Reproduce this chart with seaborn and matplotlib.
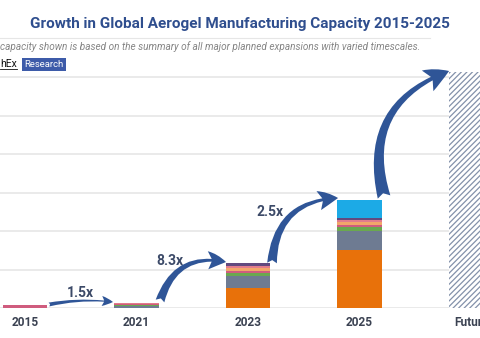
import matplotlib
matplotlib.use("Agg")
import matplotlib.pyplot as plt
import seaborn as sns
import pandas as pd
import numpy as np
from matplotlib.patches import FancyArrowPatch
from matplotlib.lines import Line2D

# ---- data ----
categories = ["2015", "2021", "2023", "2025", "Future"]
seg_orange = [0.0, 0.0, 5.2, 15.1, 0.0]
seg_gray   = [0.0, 0.5, 3.1, 5.0, 0.0]
seg_green  = [0.0, 0.3, 0.8, 1.0, 0.0]
seg_pink   = [0.9, 0.2, 0.5, 0.5, 0.0]
seg_peach  = [0.0, 0.1, 0.8, 0.8, 0.0]
seg_rose   = [0.0, 0.1, 0.5, 0.5, 0.0]
seg_purple = [0.0, 0.15, 0.8, 0.5, 0.0]
seg_cyan   = [0.0, 0.0, 0.0, 4.6, 0.0]
future_capacity = [0.0, 0.0, 0.0, 0.0, 61.3]
growth_labels = ["1.5x", "8.3x", "2.5x"]

series = [
    ("orange", seg_orange, "#E8710A"),
    ("gray", seg_gray, "#6E7B92"),
    ("green", seg_green, "#6AA84F"),
    ("pink", seg_pink, "#CF5C7E"),
    ("peach", seg_peach, "#F2A66A"),
    ("rose", seg_rose, "#E27C8C"),
    ("purple", seg_purple, "#62497F"),
    ("cyan", seg_cyan, "#1CAAE6"),
]

df = pd.DataFrame({"category": categories})
cum = np.zeros(len(categories))
cums = []
for name, vals, col in series:
    cum = cum + np.array(vals)
    df[name] = cum.copy()
    cums.append((name, col))
df["future"] = future_capacity

plt.rcParams["hatch.linewidth"] = 0.9
fig = plt.figure(figsize=(4.8, 3.38), dpi=100)
ax = fig.add_axes([0.0, 30 / 338, 1.0, 250.25 / 338])

BW = 0.40
# future hatched bar
sns.barplot(data=df, x="category", y="future", order=categories, ax=ax,
            color="white", saturation=1, width=BW, hatch="//////",
            edgecolor="#8391AA", linewidth=0, errorbar=None)
# stacked bars, tallest cumulative first
for name, col in reversed(cums):
    sns.barplot(data=df, x="category", y=name, order=categories, ax=ax,
                color=col, saturation=1, width=BW, linewidth=0, errorbar=None)

ax.set_xlim(-0.224, 4.08)
ax.set_ylim(0, 65)
ax.set_yticks(np.arange(0, 61, 10))
ax.set_yticklabels([])
ax.tick_params(axis="y", length=0)
ax.tick_params(axis="x", length=0, pad=6)
ax.yaxis.grid(True, color="#E8E8E8", linewidth=1.3)
ax.set_axisbelow(True)
for s in ax.spines.values():
    s.set_visible(False)
ax.set_xlabel("")
ax.set_ylabel("")
for lab in ax.get_xticklabels():
    lab.set_fontfamily("Roboto")
    lab.set_fontweight("bold")
    lab.set_fontsize(8.6)
    lab.set_color("#3B4252")

# ---- arrows ----
def px2d(px, py):
    return ((px - 25) / 111.5, (308 - py) / 3.85)

arrow_col = "#2F5597"
arrows = [
    ((49, 304.5), (113, 302), -0.08, "fancy,head_length=1.0,head_width=0.9,tail_width=0.35", 8),
    ((160, 301), (226, 262), -0.45, "fancy,head_length=1.0,head_width=1.0,tail_width=0.5", 13),
    ((272, 263), (338, 198), -0.45, "fancy,head_length=1.0,head_width=1.0,tail_width=0.5", 14),
    ((384, 197), (449, 71), -0.45, "fancy,head_length=1.0,head_width=1.0,tail_width=0.55", 17),
]
for (s, e, rad, style, ms) in arrows:
    a = FancyArrowPatch(px2d(*s), px2d(*e), connectionstyle=f"arc3,rad={rad}",
                        arrowstyle=style, mutation_scale=ms, color=arrow_col,
                        linewidth=0, shrinkA=0, shrinkB=0, zorder=5)
    ax.add_patch(a)

label_pos = [(80, 293), (170, 261), (270, 212)]
for txt, (px, py) in zip(growth_labels, label_pos):
    x, y = px2d(px, py)
    ax.text(x, y, txt, ha="center", va="center", fontsize=10,
            fontweight="bold", family="Roboto", color="#3C4A68", zorder=6)

# ---- header ----
fig.text(0.5, (338 - 28) / 338, "Growth in Global Aerogel Manufacturing Capacity 2015-2025",
         ha="center", va="baseline", fontsize=10.95, fontweight="bold",
         family="Roboto", color="#2F4E8E")
fig.add_artist(Line2D([0, 430 / 480], [(338 - 38) / 338] * 2, color="#E6E6E6",
                      linewidth=0.8, transform=fig.transFigure))
fig.text(0.0, (338 - 50) / 338,
         "capacity shown is based on the summary of all major planned expansions with varied timescales.",
         ha="left", va="baseline", fontsize=7.2, style="italic",
         family="Roboto", color="#858585")
fig.text(0.0, (338 - 67) / 338, "hEx", ha="left", va="baseline", fontsize=7.5,
         family="Roboto", color="#111111")
fig.add_artist(Line2D([0, 17 / 480], [(338 - 69) / 338] * 2, color="#111111",
                      linewidth=0.6, transform=fig.transFigure))
fig.text(24 / 480, (338 - 67) / 338, "Research", ha="left", va="baseline",
         fontsize=6.8, family="Roboto", color="white",
         bbox=dict(boxstyle="square,pad=0.25", facecolor="#3D5BA9", edgecolor="none"))

fig.savefig("out.png", dpi=100, facecolor="white")
